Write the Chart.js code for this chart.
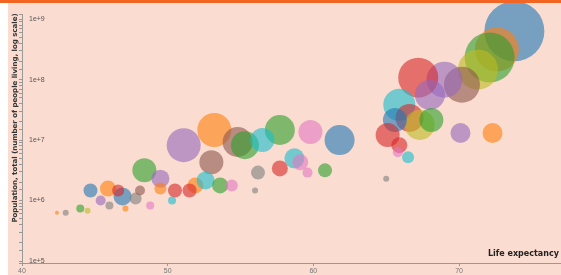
<!DOCTYPE html>
<html>
<head>
<meta charset="utf-8">
<script src="https://cdn.jsdelivr.net/npm/chart.js@4/dist/chart.umd.min.js"></script>
<style>
  html, body { margin: 0; padding: 0; background: #fff; }
  #wrap {
    position: absolute; left: 8px; top: 0; width: 553px; height: 272px;
    border-top: 3px solid #f26522; background: #fadcd0;
  }
  #wrap::before {
    content: ""; position: absolute; left: -8px; top: -3px; width: 8px; height: 3px; background: #f26522;
  }
</style>
</head>
<body>
<div id="wrap"><canvas id="grafik" width="553" height="272"></canvas></div>
<script>
// life expectancy (years)
const lifeExp = [73.8, 72.6, 72.1, 71.3, 70.2, 69.0, 67.2, 68.0, 65.9, 66.6,
  67.3, 68.1, 65.6, 65.1, 65.9, 66.5, 65.8, 70.1, 72.3, 65.0,
  51.1, 53.2, 54.8, 55.3, 57.7, 56.5, 59.8, 61.8, 53.0, 58.7,
  59.1, 60.8, 57.7, 56.2, 59.6, 48.4, 49.5, 51.9, 52.6, 53.6,
  51.5, 54.4, 50.5, 49.5, 56.0, 44.7, 45.9, 46.9, 46.6, 47.8,
  45.4, 44.0, 48.8, 47.1, 43.0, 44.5, 42.4, 48.1, 50.3, 46.0];
// population (millions)
const population = [631, 316, 233, 147, 82.5, 100, 108, 56, 38.3, 23.3,
  17.8, 21.5, 21.5, 12.1, 8.25, 5.2, 6.3, 13.1, 13.1, 2.3,
  8.25, 14.7, 9.3, 8.25, 14.7, 10, 13.6, 10, 4.3, 5.0,
  4.3, 3.16, 3.4, 2.9, 2.9, 3.16, 2.3, 1.78, 2.15, 1.78,
  1.47, 1.78, 1.47, 1.58, 1.47, 1.47, 1.58, 1.17, 1.47, 1.08,
  1.0, 0.74, 0.83, 0.74, 0.63, 0.68, 0.63, 1.47, 1.0, 0.83];
// gdp (arbitrary units, bubble area)
const gdp = [900, 484, 625, 400, 324, 324, 400, 225, 256, 196,
  225, 144, 144, 144, 64, 36, 25, 100, 100, 9,
  289, 289, 225, 196, 225, 144, 144, 225, 144, 100,
  64, 49, 64, 49, 25, 144, 81, 64, 81, 64,
  49, 36, 49, 36, 9, 49, 64, 81, 36, 36,
  25, 16, 16, 9, 9, 9, 4, 25, 16, 16];
// region group of each bubble
const groups = [0, 1, 2, 8, 5, 4, 3, 4, 9, 3,
  8, 2, 0, 3, 3, 9, 6, 4, 1, 7,
  4, 1, 5, 2, 2, 9, 6, 0, 5, 9,
  6, 2, 3, 7, 6, 2, 4, 1, 9, 2,
  3, 6, 3, 1, 7, 0, 1, 0, 3, 7,
  4, 2, 6, 1, 7, 8, 1, 5, 9, 7];
const xTicks = [40, 50, 60, 70];
const xTitle = "Life expectancy";
const yTitle = "Population, total (number of people living, log scale)";

const palette = ["31,119,180", "255,127,14", "44,160,44", "214,39,40", "148,103,189",
  "140,86,75", "227,119,194", "127,127,127", "188,189,34", "23,190,207"];

const points = lifeExp.map((v, i) => ({ x: v, y: population[i] * 1e6, r: Math.sqrt(gdp[i]) }));

// axis titles drawn by hand so they sit where the original puts them
const labelPlugin = {
  id: "titles",
  afterDraw(chart) {
    const c = chart.ctx, a = chart.chartArea;
    c.save();
    c.font = "bold 8px 'DejaVu Sans'";
    c.fillStyle = "#222";
    c.textAlign = "left";
    c.fillText(xTitle, a.right - 73, a.bottom - 7);
    c.translate(7, 115);
    c.rotate(-Math.PI / 2);
    c.font = "bold 7px 'DejaVu Sans'";
    c.fillStyle = "#333";
    c.textAlign = "center";
    c.textBaseline = "middle";
    c.fillText(yTitle, 0, 0);
    c.restore();
  }
};

const crt = new Chart(document.getElementById("grafik"), {
  type: "bubble",
  data: {
    datasets: [{
      data: points,
      backgroundColor: groups.map(g => "rgba(" + palette[g] + ",0.6)"),
      borderWidth: 0,
      clip: false
    }]
  },
  options: {
    responsive: false,
    animation: false,
    layout: { padding: 0, autoPadding: false },
    scales: {
      x: {
        type: "linear",
        min: 40, max: 77,
        afterBuildTicks: s => { s.ticks = xTicks.map(v => ({ value: v })); },
        afterFit: s => { s.height = 12; },
        grid: { drawOnChartArea: false, tickLength: 3, color: "#999" },
        border: { color: "#999" },
        ticks: { font: { size: 7 }, color: "#777", padding: 1, maxRotation: 0 }
      },
      y: {
        type: "logarithmic",
        min: 9.27e4, max: 1.21e9,
        afterFit: s => { s.width = 14; },
        grid: { drawOnChartArea: false, tickLength: 3, color: "#999" },
        border: { color: "#999" },
        ticks: {
          mirror: true, padding: 7, font: { size: 7 }, color: "#555", autoSkip: false,
          callback: v => { const l = Math.log10(v); return Math.abs(l - Math.round(l)) < 1e-6 ? v.toExponential(0) : ""; }
        }
      }
    },
    plugins: { legend: { display: false }, tooltip: { enabled: false } }
  },
  plugins: [labelPlugin]
});
</script>
</body>
</html>
